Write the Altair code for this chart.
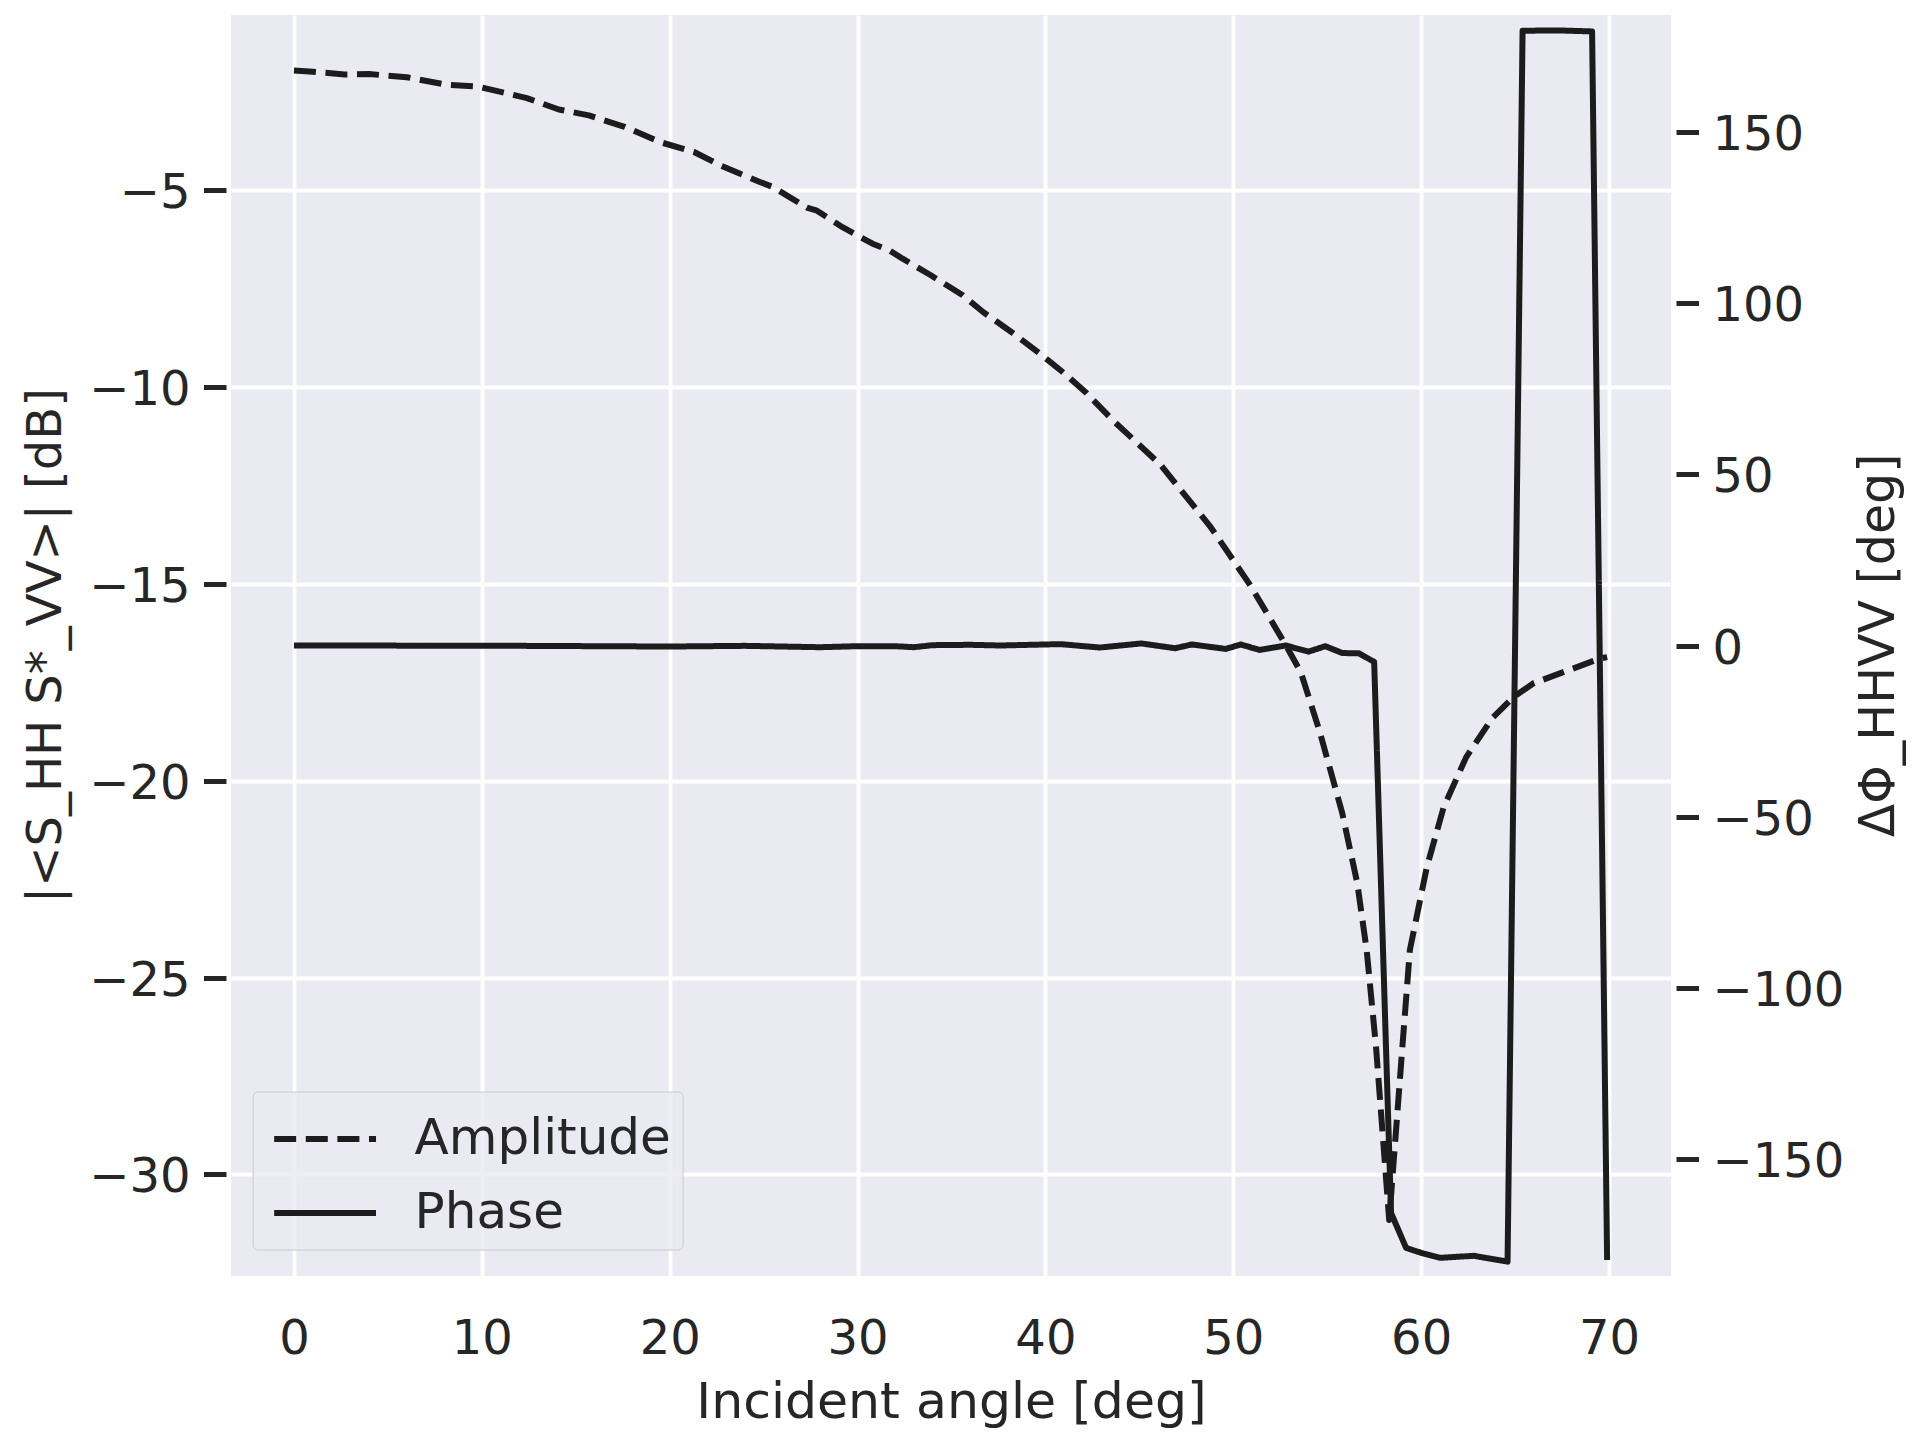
import altair as alt
import pandas as pd

# ---- data ----
series_names = ["Amplitude", "Phase"]

amp_x = [0, 1, 2.7, 4, 6, 8.1, 9.8, 12.4, 14.1, 15.7, 17.6, 19.5, 21.3, 22.7,
         24.8, 25.5, 27.3, 27.8, 29.2, 30.8, 31.7, 32.4, 33.9, 35.6, 36.7, 38.3,
         39.7, 41.0, 42.2, 43.6, 46.1, 48.8, 50.9, 52.8, 53.6, 54.6, 55.8, 56.6,
         57.1, 57.6, 58.3, 59.0, 59.4, 60.3, 61.2, 62.4, 63.8, 64.9, 66.0, 67.8,
         69.5, 69.9]
amp_db = [-1.96, -1.99, -2.06, -2.05, -2.13, -2.32, -2.37, -2.66, -2.95, -3.10,
          -3.39, -3.78, -4.03, -4.37, -4.79, -4.92, -5.44, -5.51, -5.94, -6.36,
          -6.53, -6.74, -7.16, -7.67, -8.10, -8.64, -9.15, -9.65, -10.16, -10.85,
          -11.96, -13.56, -15.03, -16.56, -17.25, -18.75, -20.82, -22.6, -24.3,
          -26.77, -31.16, -26.77, -24.3, -22.2, -20.67, -19.4, -18.4, -17.88,
          -17.52, -17.2, -16.9, -16.86]

ph_x = [0, 4, 8, 12, 16, 20, 24, 28, 30, 32, 33, 34, 36, 37.6, 40.8, 42.9, 45.1,
        46.9, 47.8, 49.6, 50.4, 51.4, 52.8, 54.0, 54.9, 55.8, 56.7, 57.5, 58.4,
        59.2, 60.1, 61.0, 62.8, 64.6, 65.4, 67.3, 69.1, 69.9]
ph_deg = [0.0, 0.0, -0.1, -0.1, -0.2, -0.3, -0.1, -0.5, -0.2, -0.2, -0.5, 0.1,
          0.2, 0.0, 0.4, -0.6, 0.6, -0.8, 0.3, -1.0, 0.3, -1.3, 0.0, -1.8, -0.2,
          -2.2, -2.3, -4.8, -165.8, -176.0, -177.6, -178.9, -178.3, -180.0,
          179.6, 179.7, 179.4, -179.5]

x_ticks = [0, 10, 20, 30, 40, 50, 60, 70]
db_ticks = [-30, -25, -20, -15, -10, -5]
deg_ticks = [-150, -100, -50, 0, 50, 100, 150]

amp_df = pd.DataFrame({"angle": amp_x, "value": amp_db, "series": series_names[0]})
ph_df = pd.DataFrame({"angle": ph_x, "value": ph_deg, "series": series_names[1]})

# ---- styling ----
FONT = "DejaVu Sans"
TXT = "#262626"
LINE = "#1c1c1c"
W, H = 1440, 1261

dash_scale = alt.Scale(domain=series_names, range=[[22, 9.6], [1, 0]])

legend = alt.Legend(
    title=None, orient="none", legendX=21.6, legendY=1076.5,
    symbolType="M-1.52,0H1.52", symbolSize=4489, symbolStrokeWidth=6,
    symbolStrokeColor=LINE, symbolFillColor="transparent",
    labelFontSize=50, labelFont=FONT, labelColor=TXT, labelLimit=500,
    labelOffset=53, symbolOffset=25, padding=11, rowPadding=12,
    fillColor="rgba(234,234,242,0.8)", strokeColor="#cccccc", cornerRadius=5,
)

x_enc = alt.X(
    "angle:Q",
    scale=alt.Scale(domain=[-3.35, 73.3], nice=False, zero=False),
    axis=alt.Axis(
        values=x_ticks, format="d", title="Incident angle [deg]",
        ticks=True, tickSize=0, labelPadding=77, labelBaseline="alphabetic",
        labelFontSize=48, titleFontSize=50.5, titleX=W / 2, titleY=141,
        titleAlign="center", titleBaseline="alphabetic",
    ),
)

amp_layer = alt.Chart(amp_df).mark_line(
    color=LINE, strokeWidth=6, strokeJoin="round", strokeCap="butt"
).encode(
    x=x_enc,
    y=alt.Y(
        "value:Q",
        scale=alt.Scale(domain=[-32.58, -0.55], nice=False, zero=False),
        axis=alt.Axis(
            orient="left", values=db_ticks, format="d",
            title="|<S_HH S*_VV>| [dB]",
            offset=5, tickSize=22.5, tickWidth=5, tickColor=TXT,
            labelPadding=13.5, labelOffset=3.5, labelFontSize=48,
            titleFontSize=48, titleAngle=270, titleX=-166, titleY=630,
            titleAlign="center", titleBaseline="alphabetic",
        ),
    ),
    strokeDash=alt.StrokeDash("series:N", scale=dash_scale, legend=legend),
    order=alt.Order("idx:Q"),
).transform_window(idx="row_number()")

ph_layer = alt.Chart(ph_df).mark_line(
    color=LINE, strokeWidth=6, strokeJoin="round", strokeCap="butt"
).encode(
    x=x_enc,
    y=alt.Y(
        "value:Q",
        scale=alt.Scale(domain=[-184.2, 184.2], nice=False, zero=False),
        axis=alt.Axis(
            orient="right", values=deg_ticks, format="d",
            title="ΔΦ_HHVV [deg]",
            offset=5, tickSize=22.5, tickWidth=5, tickColor=TXT,
            labelPadding=13.5, labelOffset=3.5, labelFontSize=48,
            titleFontSize=49, titleAngle=270, titleX=217, titleY=630,
            titleAlign="center", titleBaseline="alphabetic",
        ),
    ),
    strokeDash=alt.StrokeDash("series:N", scale=dash_scale, legend=legend),
    order=alt.Order("idx:Q"),
).transform_window(idx="row_number()")

chart = alt.layer(amp_layer, ph_layer).resolve_scale(
    y="independent"
).properties(
    width=W, height=H,
    padding={"left": 223, "top": 7, "right": 240, "bottom": 162},
    autosize=alt.AutoSizeParams(type="none"),
    background="white",
).configure_view(
    fill="#EAEAF2", strokeWidth=0
).configure_axis(
    labelFont=FONT, titleFont=FONT, labelColor=TXT, titleColor=TXT,
    domain=False, grid=True, gridColor="white", gridWidth=3.8,
    titleFontWeight="normal",
)

chart.save("out.html", embed_options={"renderer": "svg", "actions": False})
